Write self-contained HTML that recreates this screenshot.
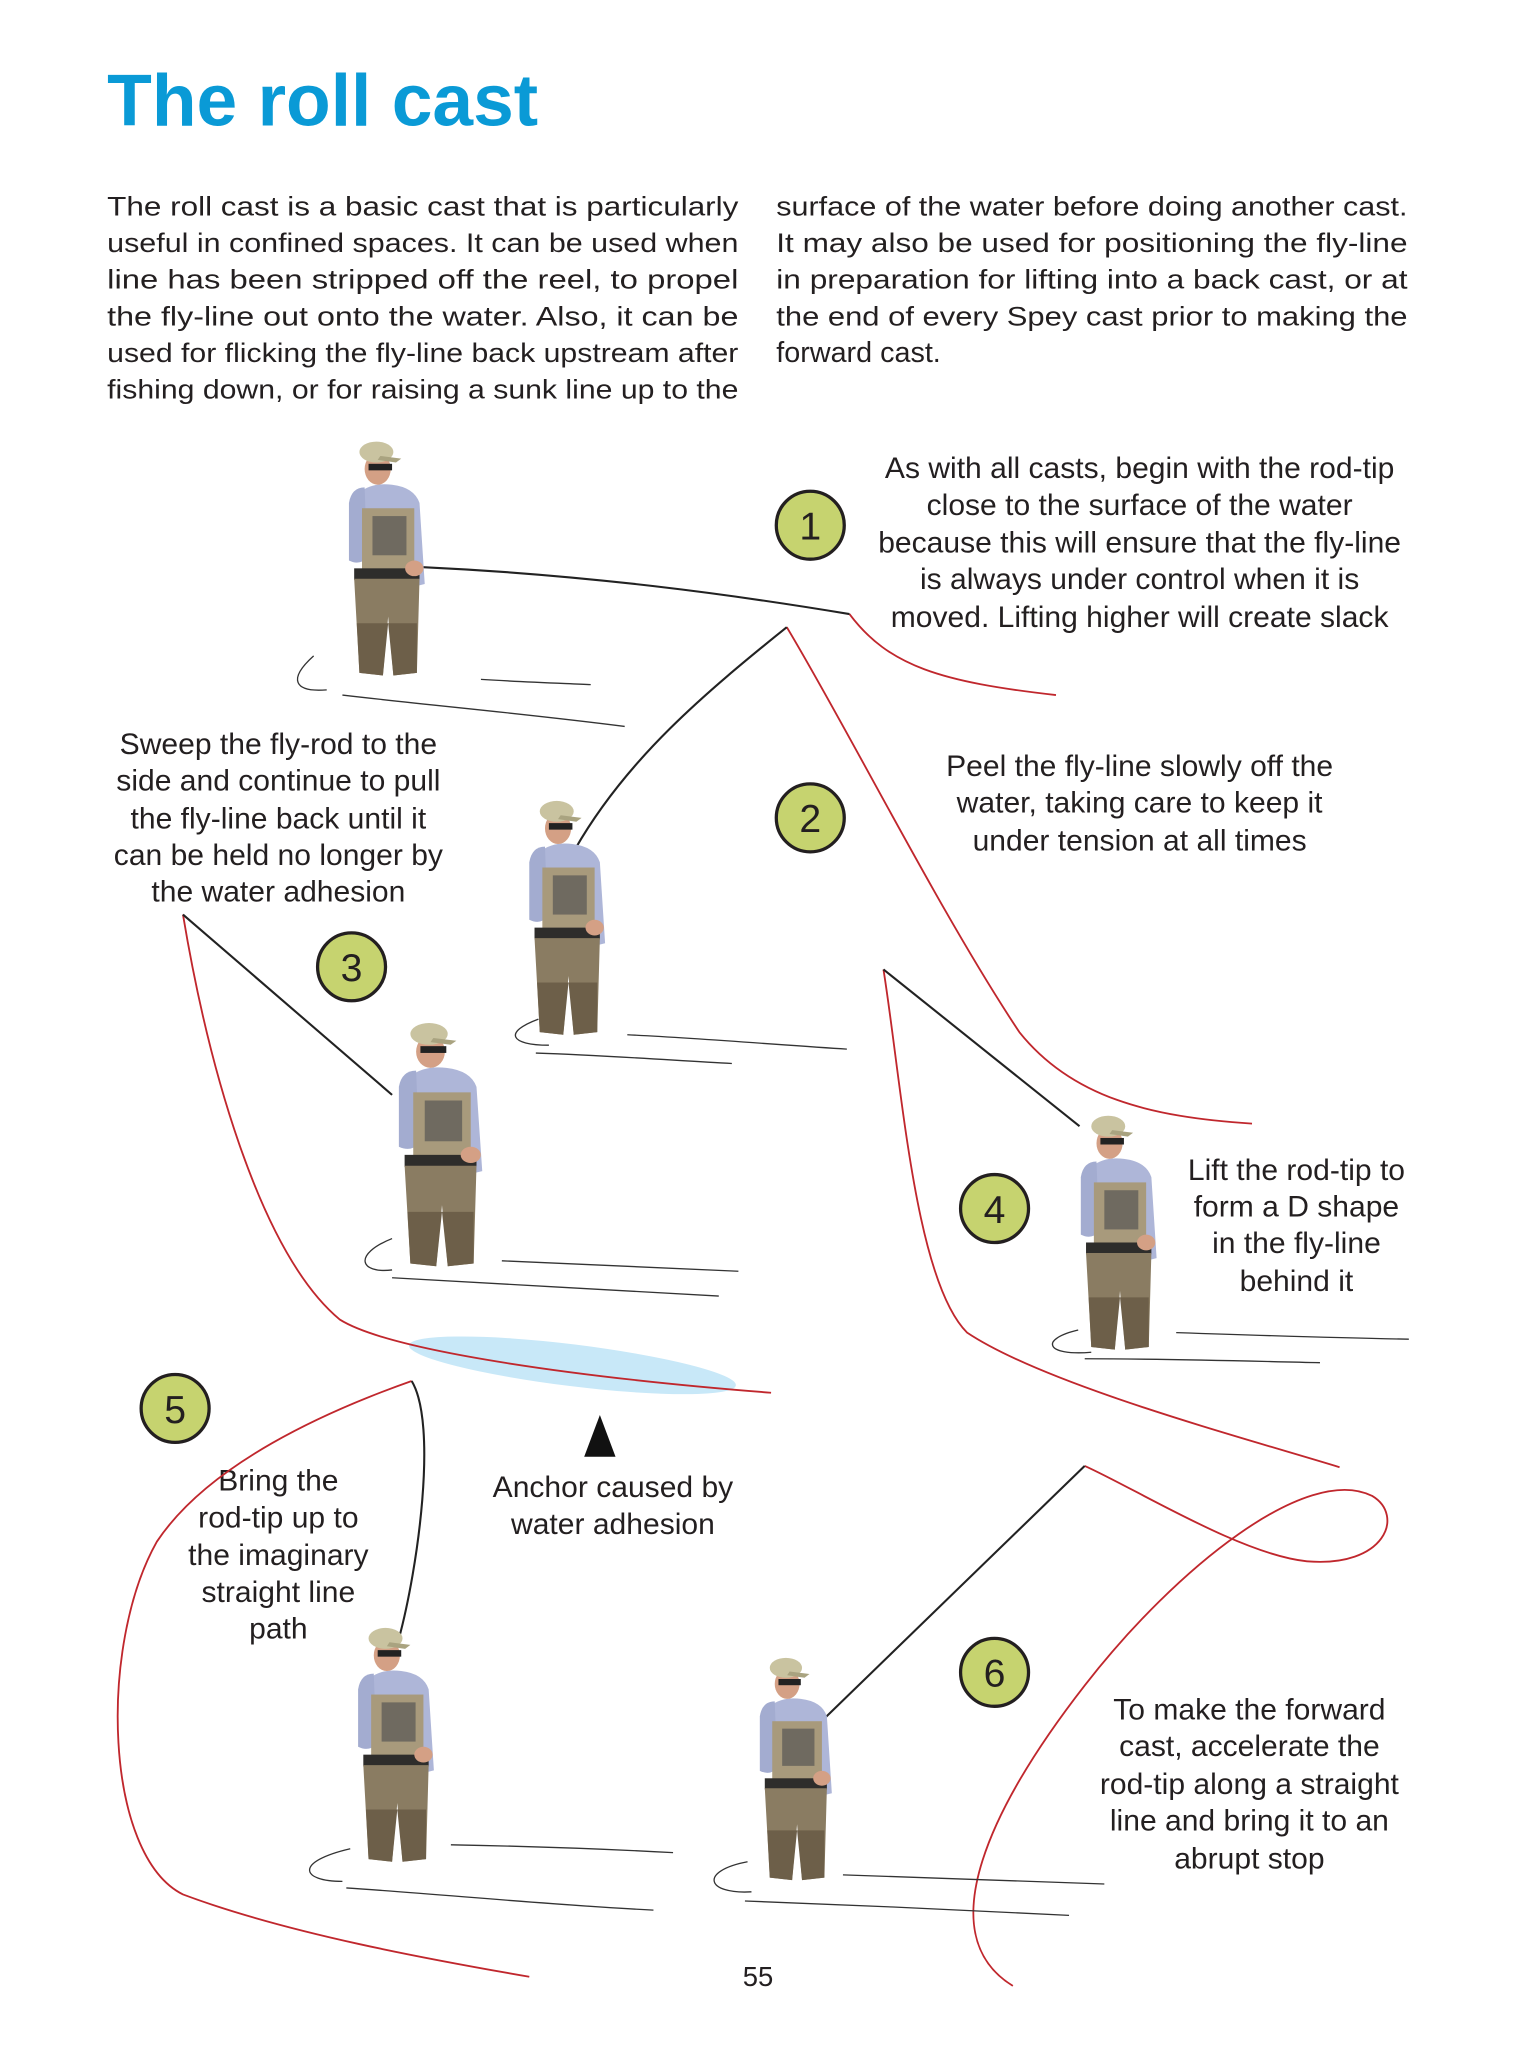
<!DOCTYPE html>
<html><head><meta charset="utf-8"><style>
html,body{margin:0;padding:0;background:#fff}
svg{display:block}
text{font-family:"Liberation Sans",Arial,sans-serif;fill:#231f20}
</style></head><body>
<svg width="1516" height="2046" viewBox="0 0 1160 1566" preserveAspectRatio="none" xmlns="http://www.w3.org/2000/svg">
<defs>
<g id="man">
 <path d="M20,40 Q30,32 45,34 Q62,36 66,48 L70,110 L62,112 L58,70 L20,70 Z" fill="#aeb6d8"/>
 <path d="M12,48 Q14,36 24,36 L26,90 Q20,96 12,92 Z" fill="#a3acd0"/>
 <rect x="22" y="52" width="40" height="50" fill="#a89a7c"/>
 <rect x="30" y="58" width="26" height="30" fill="#6f6a60"/>
 <rect x="16" y="98" width="50" height="9" fill="#2e2d2b"/>
 <path d="M16,106 L66,106 L64,178 L46,180 L42,135 L38,180 L20,178 Z" fill="#8a7c62"/>
 <path d="M18,140 L64,140 L64,178 L46,180 L42,140 L38,180 L20,178 Z" fill="#6d5f49"/>
 <ellipse cx="34" cy="22" rx="10" ry="12" fill="#d4a085"/>
 <rect x="27" y="18" width="18" height="5" fill="#222"/>
 <ellipse cx="33" cy="9" rx="13" ry="8" fill="#c9c3a0"/>
 <path d="M36,12 L52,14 L48,17 L34,15 Z" fill="#a9a380"/>
 <ellipse cx="62" cy="98" rx="7" ry="6" fill="#d4a085"/>
</g>
</defs>
<text x="82" y="96" font-size="56" font-weight="bold" style="fill:#0a9ad6">The roll cast</text>
<g font-size="20.5">
<text x="82" y="165" textLength="483" lengthAdjust="spacingAndGlyphs">The roll cast is a basic cast that is particularly</text>
<text x="82" y="193" textLength="483" lengthAdjust="spacingAndGlyphs">useful in confined spaces. It can be used when</text>
<text x="82" y="221" textLength="483" lengthAdjust="spacingAndGlyphs">line has been stripped off the reel, to propel</text>
<text x="82" y="249" textLength="483" lengthAdjust="spacingAndGlyphs">the fly-line out onto the water. Also, it can be</text>
<text x="82" y="277" textLength="483" lengthAdjust="spacingAndGlyphs">used for flicking the fly-line back upstream after</text>
<text x="82" y="305" textLength="483" lengthAdjust="spacingAndGlyphs">fishing down, or for raising a sunk line up to the</text>
<text x="594" y="165" textLength="483" lengthAdjust="spacingAndGlyphs">surface of the water before doing another cast.</text>
<text x="594" y="193" textLength="483" lengthAdjust="spacingAndGlyphs">It may also be used for positioning the fly-line</text>
<text x="594" y="221" textLength="483" lengthAdjust="spacingAndGlyphs">in preparation for lifting into a back cast, or at</text>
<text x="594" y="249" textLength="483" lengthAdjust="spacingAndGlyphs">the end of every Spey cast prior to making the</text>
<text x="594" y="277" font-size="22">forward cast.</text>
</g>
<g font-size="23" text-anchor="middle">
<text x="872" y="366">As with all casts, begin with the rod-tip</text>
<text x="872" y="394">close to the surface of the water</text>
<text x="872" y="423">because this will ensure that the fly-line</text>
<text x="872" y="451">is always under control when it is</text>
<text x="872" y="480">moved. Lifting higher will create slack</text>
<text x="872" y="594">Peel the fly-line slowly off the</text>
<text x="872" y="622">water, taking care to keep it</text>
<text x="872" y="651">under tension at all times</text>
<text x="213" y="577">Sweep the fly-rod to the</text>
<text x="213" y="605">side and continue to pull</text>
<text x="213" y="634">the fly-line back until it</text>
<text x="213" y="662">can be held no longer by</text>
<text x="213" y="690">the water adhesion</text>
<text x="992" y="903">Lift the rod-tip to</text>
<text x="992" y="931">form a D shape</text>
<text x="992" y="959">in the fly-line</text>
<text x="992" y="988">behind it</text>
<text x="213" y="1141">Bring the</text>
<text x="213" y="1169">rod-tip up to</text>
<text x="213" y="1198">the imaginary</text>
<text x="213" y="1226">straight line</text>
<text x="213" y="1254">path</text>
<text x="469" y="1146">Anchor caused by</text>
<text x="469" y="1174">water adhesion</text>
<text x="956" y="1316">To make the forward</text>
<text x="956" y="1344">cast, accelerate the</text>
<text x="956" y="1373">rod-tip along a straight</text>
<text x="956" y="1401">line and bring it to an</text>
<text x="956" y="1430">abrupt stop</text>
<text x="580" y="1520" font-size="21">55</text>
</g>
<ellipse cx="438" cy="1045" rx="126" ry="16" transform="rotate(7 438 1045)" fill="#c8e8f8"/>
<path d="M459,1083 L447,1115 L471,1115 Z" fill="#111"/>
<g fill="none" stroke="#c0272d" stroke-width="1.4">
<path d="M650,470 C680,510 720,522 808,532"/>
<path d="M602,480 C650,560 720,700 780,790 C820,840 880,855 958,860"/>
<path d="M140,700 C160,820 200,960 260,1010 C300,1035 450,1055 590,1066"/>
<path d="M676,742 C690,830 700,980 740,1020 C800,1060 950,1100 1025,1123"/>
<path d="M315,1057 C250,1080 160,1120 120,1180 C75,1260 80,1420 140,1450 C220,1480 330,1500 405,1513"/>
<path d="M830,1122 C870,1140 950,1190 1000,1195 C1060,1200 1075,1160 1050,1145 C1000,1120 900,1200 830,1290 C760,1380 710,1480 775,1520"/>
</g>
<g fill="none" stroke="#222" stroke-width="1.6">
<path d="M322,434 C450,440 560,455 650,470"/>
<path d="M440,650 C480,580 540,530 602,480"/>
<path d="M300,838 L140,700"/>
<path d="M826,862 L676,742"/>
<path d="M305,1255 C320,1200 335,1090 315,1057"/>
<path d="M628,1318 L830,1122"/>
</g>
<g fill="none" stroke="#333" stroke-width="1">
<path d="M240,502 C220,520 225,530 250,528"/><path d="M368,520 C400,522 430,523 452,524"/><path d="M262,532 C330,540 400,546 478,556"/>
<path d="M412,780 C385,790 390,800 420,800"/><path d="M480,792 C540,795 600,800 648,803"/><path d="M410,806 C470,808 520,812 560,814"/>
<path d="M300,948 C270,960 275,975 300,972"/><path d="M384,965 C450,968 510,970 565,973"/><path d="M300,978 C380,982 470,988 550,992"/>
<path d="M825,1018 C795,1025 800,1038 835,1035"/><path d="M900,1020 C960,1022 1020,1024 1078,1025"/><path d="M830,1040 C900,1040 960,1042 1010,1043"/>
<path d="M268,1415 C225,1425 230,1440 262,1440"/><path d="M345,1412 C400,1413 460,1415 515,1418"/><path d="M265,1445 C340,1450 420,1458 500,1462"/>
<path d="M572,1425 C535,1432 540,1450 575,1448"/><path d="M645,1435 C710,1437 780,1440 845,1442"/><path d="M570,1455 C650,1458 740,1462 818,1466"/>
</g>
<use href="#man" transform="translate(255,337)"/>
<use href="#man" transform="translate(393,612)"/>
<use href="#man" transform="translate(292,782) scale(1.1,1.04)"/>
<use href="#man" transform="translate(815,853)"/>
<use href="#man" transform="translate(262,1245)"/>
<use href="#man" transform="translate(570,1268) scale(0.95,0.95)"/>
<g stroke="#231f20" stroke-width="2.5" fill="#c6d36f">
<circle cx="620" cy="402" r="26"/><circle cx="620" cy="626" r="26"/><circle cx="269" cy="740" r="26"/>
<circle cx="761" cy="925" r="26"/><circle cx="134" cy="1078" r="26"/><circle cx="761" cy="1280" r="26"/>
</g>
<g font-size="30" text-anchor="middle">
<text x="620" y="413">1</text><text x="620" y="637">2</text><text x="269" y="751">3</text>
<text x="761" y="936">4</text><text x="134" y="1089">5</text><text x="761" y="1291">6</text>
</g>
</svg>
</body></html>
